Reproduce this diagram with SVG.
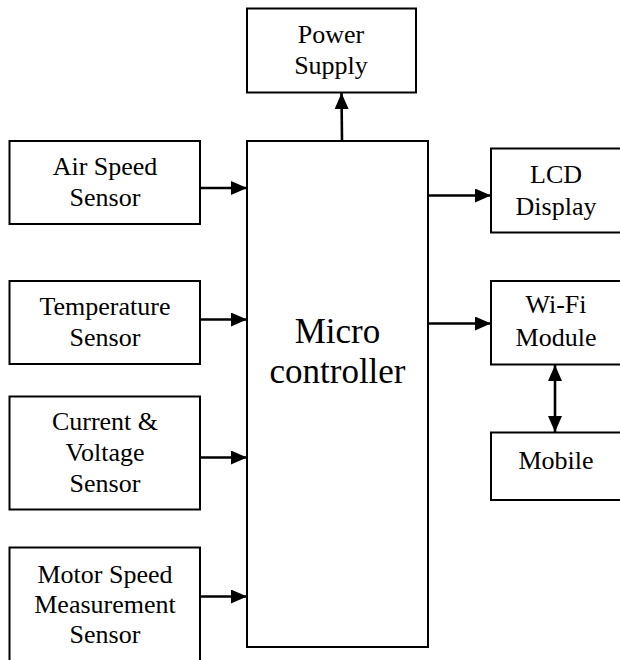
<svg xmlns="http://www.w3.org/2000/svg" width="620" height="660" viewBox="0 0 620 660">
<defs>
<style>
.box{fill:#fff;stroke:#000;stroke-width:2}
.t{font-family:"Liberation Serif","Times New Roman",serif;font-size:26px;fill:#000;text-anchor:middle}
.big{font-size:35px}
.c{stroke:#000;stroke-width:2.6;fill:none}
</style>
<marker id="ah" markerUnits="userSpaceOnUse" markerWidth="16" markerHeight="14" refX="16" refY="7" orient="auto-start-reverse" viewBox="0 0 16 14">
<path d="M0,0 L16,7 L0,14 Z" fill="#000"/>
</marker>
</defs>
<rect width="620" height="660" fill="#fff"/>
<g id="power">
<rect class="box" x="247" y="8.5" width="169" height="84"/>
<text class="t" x="331" y="43">Power</text>
<text class="t" x="331" y="74">Supply</text>
</g>
<g id="micro">
<rect class="box" x="247" y="141" width="181" height="506"/>
<text class="t big" x="337.5" y="343">Micro</text>
<text class="t big" x="337.5" y="383">controller</text>
</g>
<g id="airspeed">
<rect class="box" x="9.5" y="141" width="190.5" height="83"/>
<text class="t" x="105" y="175">Air Speed</text>
<text class="t" x="105" y="206">Sensor</text>
</g>
<g id="temperature">
<rect class="box" x="9.5" y="281" width="190.5" height="83"/>
<text class="t" x="105" y="315">Temperature</text>
<text class="t" x="105" y="346">Sensor</text>
</g>
<g id="current">
<rect class="box" x="9.5" y="396.5" width="190.5" height="113"/>
<text class="t" x="105" y="430">Current &amp;</text>
<text class="t" x="105" y="461">Voltage</text>
<text class="t" x="105" y="492">Sensor</text>
</g>
<g id="motor">
<path class="box" d="M9.5,660 V547.5 H200 V660"/>
<text class="t" x="105" y="583">Motor Speed</text>
<text class="t" x="105" y="613">Measurement</text>
<text class="t" x="105" y="643">Sensor</text>
</g>
<g id="lcd">
<path class="box" d="M621,148.5 H491 V232.5 H621"/>
<text class="t" x="556" y="183">LCD</text>
<text class="t" x="556" y="215">Display</text>
</g>
<g id="wifi">
<path class="box" d="M621,281 H491 V364.5 H621"/>
<text class="t" x="556" y="313">Wi-Fi</text>
<text class="t" x="556" y="346">Module</text>
</g>
<g id="mobile">
<path class="box" d="M621,432.5 H491 V500 H621"/>
<text class="t" x="556" y="469">Mobile</text>
</g>
<g id="connectors">
<line class="c" x1="342" y1="141" x2="341.5" y2="93" marker-end="url(#ah)"/>
<line class="c" x1="200" y1="188" x2="247" y2="188" marker-end="url(#ah)"/>
<line class="c" x1="200" y1="319.5" x2="247" y2="319.5" marker-end="url(#ah)"/>
<line class="c" x1="200" y1="457.5" x2="247" y2="457.5" marker-end="url(#ah)"/>
<line class="c" x1="200" y1="596.5" x2="247" y2="596.5" marker-end="url(#ah)"/>
<line class="c" x1="428" y1="195.5" x2="491" y2="195.5" marker-end="url(#ah)"/>
<line class="c" x1="428" y1="323.5" x2="491" y2="323.5" marker-end="url(#ah)"/>
<line class="c" x1="555" y1="365" x2="555" y2="432" marker-start="url(#ah)" marker-end="url(#ah)"/>
</g>
</svg>
